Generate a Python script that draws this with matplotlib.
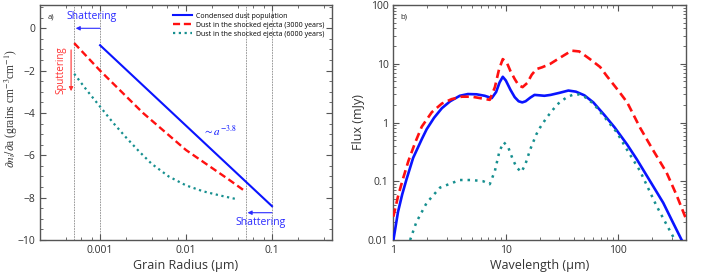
import matplotlib
matplotlib.use("Agg")
import matplotlib.pyplot as plt
from matplotlib.ticker import FixedLocator, FixedFormatter, LogLocator, NullFormatter, MultipleLocator

plt.rcParams['font.family'] = ['Open Sans', 'DejaVu Sans']
plt.rcParams['mathtext.fontset'] = 'stix'

# ---- Panel a) grain size distributions ----
cond_a = [0.001, 0.1]
cond_y = [-0.8, -8.4]

ej3000_a = [5e-4, 0.001, 0.00316, 0.01, 0.0316, 0.05]
ej3000_y = [-0.7, -2.0, -4.0, -5.75, -7.15, -7.73]

ej6000_a = [5e-4, 7.08e-4, 0.001, 0.00141, 0.002, 0.00282, 0.00398, 0.0063, 0.01, 0.0158, 0.0251, 0.0398]
ej6000_y = [-2.15, -2.95, -3.7, -4.45, -5.15, -5.8, -6.4, -7.0, -7.42, -7.7, -7.9, -8.08]

vlines_a = [5e-4, 0.001, 0.05, 0.1]

# ---- Panel b) SEDs ----
blue_w = [1.0, 1.1, 1.2, 1.31, 1.5, 1.79, 1.98, 2.3, 2.7, 3.2, 3.9, 4.6, 5.5, 6.5, 7.5,
          8.2, 8.8, 9.4, 10.0, 11.0, 12.0, 13.0, 14.0, 15.0, 16.5, 18.0, 20.0, 22.0, 25.0,
          30.0, 36.0, 42.0, 50.0, 60.0, 75.0, 93.0, 120.0, 146.0, 200.0, 251.0, 300.0, 366.0, 400.0]
blue_f = [0.0098, 0.03, 0.06, 0.108, 0.25, 0.52, 0.77, 1.2, 1.75, 2.3, 2.85, 3.05, 3.02, 2.85, 2.6,
          3.3, 4.8, 6.0, 5.2, 3.6, 2.7, 2.3, 2.2, 2.3, 2.65, 2.95, 2.9, 2.85, 2.95,
          3.2, 3.5, 3.35, 2.9, 2.2, 1.35, 0.82, 0.42, 0.237, 0.088, 0.043, 0.0215, 0.01, 0.0075]

red_w = [1.0, 1.1, 1.2, 1.36, 1.56, 1.79, 2.2, 2.7, 3.3, 4.05, 5.0, 5.9, 7.2,
         8.0, 8.7, 9.4, 10.2, 11.0, 12.0, 13.0, 14.1, 15.5, 17.0, 18.7, 21.0, 24.7,
         30.0, 38.5, 45.0, 56.0, 69.0, 79.0, 100.0, 120.0, 156.0, 200.0, 269.0, 330.0, 400.0]
red_f = [0.025, 0.055, 0.1, 0.22, 0.45, 0.85, 1.5, 2.1, 2.5, 2.75, 2.75, 2.6, 2.43,
         4.0, 8.0, 12.0, 10.5, 7.5, 5.5, 4.3, 4.0, 4.7, 6.5, 8.1, 8.7, 9.9,
         12.5, 16.7, 16.2, 12.0, 8.8, 6.2, 3.5, 2.2, 0.82, 0.36, 0.14, 0.058, 0.023]

teal_w = [1.41, 1.6, 1.98, 2.6, 3.9, 5.0, 6.3, 7.2, 8.0, 8.8, 9.6, 10.5, 11.5, 12.5, 13.8,
          15.0, 16.5, 18.7, 20.0, 23.0, 26.5, 30.0, 35.0, 40.0, 45.0, 50.0, 60.0, 75.0,
          97.0, 120.0, 156.0, 219.0, 270.0, 319.0, 350.0]
teal_f = [0.01, 0.02, 0.043, 0.078, 0.105, 0.105, 0.1, 0.089, 0.15, 0.33, 0.46, 0.38, 0.24, 0.17, 0.144,
          0.2, 0.35, 0.63, 0.8, 1.2, 1.69, 2.2, 2.7, 3.0, 3.0, 2.75, 2.1, 1.25,
          0.68, 0.34, 0.15, 0.038, 0.018, 0.01, 0.0068]

legend_labels = ['Condensed dust population',
                 'Dust in the shocked ejecta (3000 years)',
                 'Dust in the shocked ejecta (6000 years)']

BLUE = '#0a14ff'
RED = '#ff1010'
TEAL = '#168f8f'
TXT = '#333333'
SPINE = '#555555'

fig = plt.figure(figsize=(7.03, 2.72), dpi=100)
ax1 = fig.add_axes([0.0569, 0.1176, 0.4154, 0.864])
ax2 = fig.add_axes([0.5595, 0.1176, 0.4163, 0.864])

for ax in (ax1, ax2):
    for s in ax.spines.values():
        s.set_color(SPINE)
        s.set_linewidth(1.0)
    ax.tick_params(which='both', direction='in', top=True, right=True,
                   colors=SPINE, labelcolor=TXT, labelsize=7.5)
    ax.tick_params(which='major', length=4, width=0.8)
    ax.tick_params(which='minor', length=2.5, width=0.6)

# ---- panel a ----
for xv in vlines_a:
    ax1.axvline(xv, color='#888888', lw=0.6, ls=(0, (2, 1.2)), zorder=1)

l1, = ax1.plot(cond_a, cond_y, color=BLUE, lw=1.5, zorder=3)
l2, = ax1.plot(ej3000_a, ej3000_y, color=RED, lw=1.7, ls=(0, (3, 1.6)), zorder=3)
l3, = ax1.plot(ej6000_a, ej6000_y, color=TEAL, lw=1.6, ls=(0, (1, 1.6)), zorder=3)

ax1.set_xscale('log')
ax1.set_xlim(2e-4, 0.5)
ax1.xaxis.set_major_locator(FixedLocator([0.001, 0.01, 0.1]))
ax1.xaxis.set_major_formatter(FixedFormatter(['0.001', '0.01', '0.1']))
ax1.xaxis.set_minor_locator(LogLocator(base=10, subs=[2, 4, 6, 8]))
ax1.xaxis.set_minor_formatter(NullFormatter())
ax1.set_yticks([0, -2, -4, -6, -8, -10])
ax1.set_yticklabels(['0', '\u22122', '\u22124', '\u22126', '\u22128', '\u221210'])
ax1.yaxis.set_minor_locator(MultipleLocator(0.5))
ax1.set_ylim(-10, 1.1)

ax1.set_xlabel('Grain Radius (\u03bcm)', fontsize=9, color=TXT, labelpad=2)
ax1.set_ylabel(r'$\partial n_i/\partial$a (grains cm$^{-3}$cm$^{-1}$)',
               fontsize=8.3, color=TXT, family=['Liberation Serif', 'DejaVu Serif'], labelpad=1)
ax1.yaxis.set_label_coords(-0.068, 0.56)

ax1.legend([l1, l2, l3], legend_labels, loc='upper left', bbox_to_anchor=(0.44, 0.985),
           frameon=False, fontsize=5.0, handlelength=2.8, handletextpad=0.6,
           labelspacing=0.3, borderaxespad=0.2)

ax1.text(0.025, 0.965, 'a)', transform=ax1.transAxes, fontsize=5.5, color='#222222',
         ha='left', va='top')
ax1.text(8.0e-4, 0.55, 'Shattering', color='#2a2aff', fontsize=7.5, ha='center', va='center')
ax1.annotate('', xy=(5.2e-4, 0.0), xytext=(0.001, 0.0),
             arrowprops=dict(arrowstyle='-|>', color='#2a2aff', lw=0.8, mutation_scale=6,
                             shrinkA=0, shrinkB=0))
ax1.text(3.5e-4, -2.0, 'Sputtering', color='#ff3030', fontsize=7, rotation=90,
         ha='center', va='center')
ax1.annotate('', xy=(4.6e-4, -2.97), xytext=(4.6e-4, -1.02),
             arrowprops=dict(arrowstyle='-|>', color='#ff3030', lw=0.8, mutation_scale=6,
                             shrinkA=0, shrinkB=0))
ax1.text(0.0158, -4.85, r'$\sim a^{-3.8}$', color=BLUE, fontsize=8, ha='left', va='center')
ax1.text(0.0736, -9.18, 'Shattering', color='#2a2aff', fontsize=7.5, ha='center', va='center')
ax1.annotate('', xy=(0.052, -8.71), xytext=(0.1, -8.71),
             arrowprops=dict(arrowstyle='-|>', color='#2a2aff', lw=0.8, mutation_scale=6,
                             shrinkA=0, shrinkB=0))

# ---- panel b ----
ax2.plot(blue_w, blue_f, color=BLUE, lw=1.9, zorder=3)
ax2.plot(red_w, red_f, color=RED, lw=1.9, ls=(0, (3.2, 1.8)), zorder=3)
ax2.plot(teal_w, teal_f, color=TEAL, lw=1.8, ls=(0, (1, 2.0)), zorder=3)

ax2.set_xscale('log')
ax2.set_yscale('log')
ax2.set_xlim(1, 400)
ax2.set_ylim(0.01, 100)
ax2.xaxis.set_major_locator(FixedLocator([1, 10, 100]))
ax2.xaxis.set_major_formatter(FixedFormatter(['1', '10', '100']))
ax2.xaxis.set_minor_locator(LogLocator(base=10, subs=range(2, 10)))
ax2.xaxis.set_minor_formatter(NullFormatter())
ax2.yaxis.set_major_locator(FixedLocator([0.01, 0.1, 1, 10, 100]))
ax2.yaxis.set_major_formatter(FixedFormatter(['0.01', '0.1', '1', '10', '100']))
ax2.yaxis.set_minor_locator(LogLocator(base=10, subs=range(2, 10)))
ax2.yaxis.set_minor_formatter(NullFormatter())

ax2.set_xlabel('Wavelength (\u03bcm)', fontsize=9, color=TXT, labelpad=2)
ax2.set_ylabel('Flux (mJy)', fontsize=9, color=TXT, labelpad=2)
ax2.text(0.025, 0.965, 'b)', transform=ax2.transAxes, fontsize=5.5, color='#222222',
         ha='left', va='top')

fig.savefig('out.png', dpi=100)
